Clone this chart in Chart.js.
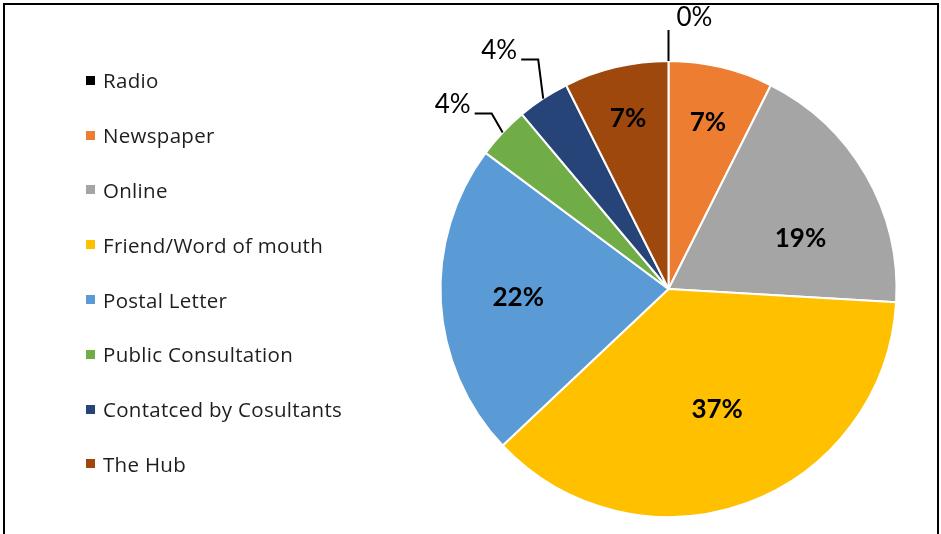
<!DOCTYPE html>
<html>
<head>
<meta charset="utf-8">
<script src="https://cdn.jsdelivr.net/npm/chart.js@4"></script>
<style>
  html, body { margin: 0; padding: 0; background: #fff; }
  #wrap { position: relative; width: 941px; height: 534px; overflow: hidden; }
  #frame {
    position: absolute; left: 3px; top: 3px; width: 932px; height: 540px;
    border: 2px solid #000; box-sizing: content-box; pointer-events: none;
  }
  #chart { position: absolute; left: 0; top: 0; }
  #legend {
    position: absolute; left: 86px; top: 53px; margin: 0; padding: 0;
    list-style: none; font-family: "Open Sans", Lato, sans-serif; font-size: 20.5px;
    letter-spacing: 0.3px; color: #1e1e1e;
  }
  #legend li { display: flex; align-items: center; height: 54.8px; }
  #legend .box { width: 9px; height: 9px; margin-right: 8px; flex: none; }
</style>
</head>
<body>
<div id="wrap">
  <canvas id="chart" width="941" height="534"></canvas>
  <ul id="legend"></ul>
  <div id="frame"></div>
</div>
<script>
// ─── Data ───────────────────────────────────────────────────

const CATEGORIES = [
  'Radio',
  'Newspaper',
  'Online',
  'Friend/Word of mouth',
  'Postal Letter',
  'Public Consultation',
  'Contatced by Cosultants',
  'The Hub',
];

// respondent counts (27 in total)
const RESPONSES = [0, 2, 5, 10, 6, 1, 1, 2];

const COLORS = ['#000000', '#ED7D31', '#A5A5A5', '#FFC000', '#5B9BD5', '#70AD47', '#264478', '#9E480E'];

// ─── Label placement (style only) ───────────────────────────
// inside: fraction of the radius (+ optional turn in degrees)
// outside: leader line offset from the slice edge

const LABEL_STYLE = [
  { leader: [0, -31] },
  { inside: 0.75 },
  { inside: 0.62, turn: 9 },
  { inside: 0.57, turn: -2 },
  { inside: 0.66 },
  { leader: [-11, -19] },
  { leader: [-5, -39] },
  { inside: 0.77 },
];

// ─── Pie labels plugin ──────────────────────────────────────

const pieLabels = {
  id: 'pieLabels',
  afterDatasetsDraw(chart) {
    const { ctx } = chart;
    const meta = chart.getDatasetMeta(0);
    const values = chart.data.datasets[0].data;
    const total = values.reduce((a, b) => a + b, 0);

    ctx.save();
    ctx.fillStyle = '#000';
    ctx.strokeStyle = '#000';
    ctx.lineWidth = 2;
    ctx.textBaseline = 'middle';

    meta.data.forEach((arc, i) => {
      const { x, y, startAngle, endAngle, outerRadius } = arc.getProps(
        ['x', 'y', 'startAngle', 'endAngle', 'outerRadius'], true);
      const style = LABEL_STYLE[i];
      const mid = (startAngle + endAngle) / 2 + (style.turn || 0) * Math.PI / 180;
      const cos = Math.cos(mid);
      const sin = Math.sin(mid);
      const text = Math.round(values[i] / total * 100) + '%';

      if (style.inside) {
        const r = outerRadius * style.inside;
        ctx.font = 'bold 26px Lato, "Open Sans", sans-serif';
        ctx.textAlign = 'center';
        ctx.fillText(text, x + cos * r, y + sin * r);
        return;
      }

      const p0 = { x: x + cos * outerRadius, y: y + sin * outerRadius };
      const p1 = { x: p0.x + style.leader[0], y: p0.y + style.leader[1] };
      ctx.font = '26px Lato, "Open Sans", sans-serif';
      ctx.beginPath();
      ctx.moveTo(p0.x, p0.y);
      ctx.lineTo(p1.x, p1.y);

      if (style.leader[0] === 0) {
        // straight up: label sits to the right of the line end
        ctx.stroke();
        ctx.textAlign = 'left';
        ctx.fillText(text, p1.x + 8, p1.y - 12);
      } else {
        const p2 = { x: p1.x - 17, y: p1.y };
        ctx.lineTo(p2.x, p2.y);
        ctx.stroke();
        ctx.textAlign = 'right';
        ctx.fillText(text, p2.x - 4, p2.y - 9);
      }
    });
    ctx.restore();
  },
};

// ─── Chart ──────────────────────────────────────────────────

const chart = new Chart(document.getElementById('chart'), {
  type: 'pie',
  data: {
    labels: CATEGORIES,
    datasets: [{
      data: RESPONSES,
      backgroundColor: COLORS,
      borderColor: '#ffffff',
      borderWidth: 2,
    }],
  },
  options: {
    responsive: false,
    animation: false,
    devicePixelRatio: 1,
    layout: { padding: { left: 439, right: 43, top: 60, bottom: 16 } },
    plugins: {
      legend: { display: false },
      tooltip: { enabled: false },
    },
  },
  plugins: [pieLabels],
});

// ─── HTML legend ────────────────────────────────────────────

const legendEl = document.getElementById('legend');
CATEGORIES.forEach((name, i) => {
  const li = document.createElement('li');
  const box = document.createElement('span');
  box.className = 'box';
  box.style.background = COLORS[i];
  li.appendChild(box);
  li.appendChild(document.createTextNode(name));
  legendEl.appendChild(li);
});
</script>
</body>
</html>
